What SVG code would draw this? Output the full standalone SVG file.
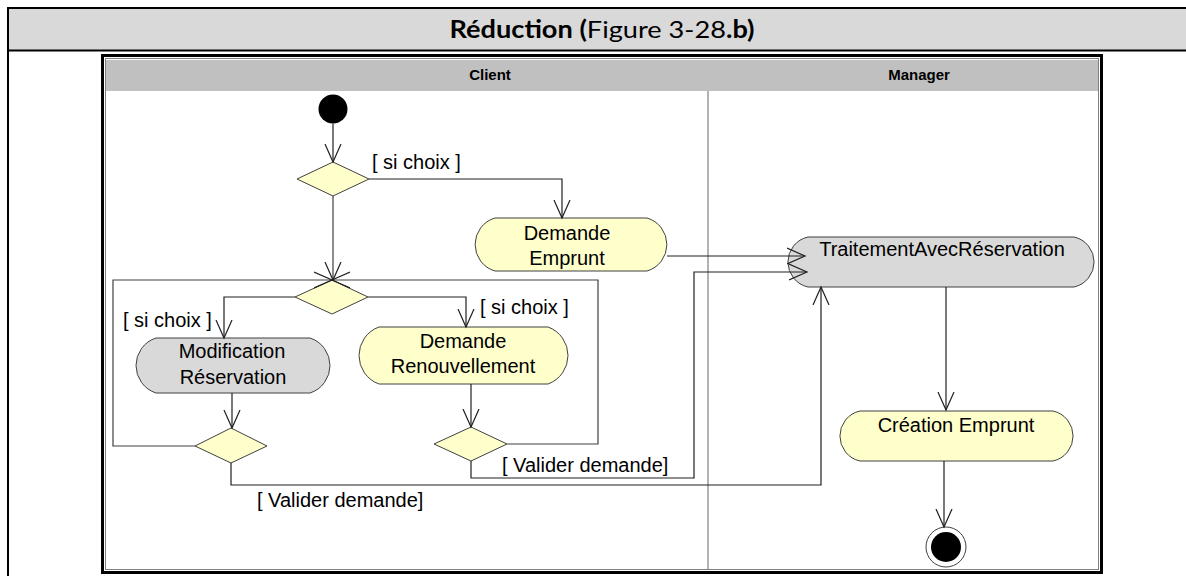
<svg xmlns="http://www.w3.org/2000/svg" width="1186" height="576" viewBox="0 0 1186 576">
  <defs>
    <marker id="arr" viewBox="0 0 20 20" markerWidth="20" markerHeight="20" refX="18" refY="10" orient="auto" markerUnits="userSpaceOnUse">
      <path d="M0,2 L18,10 L0,18" fill="none" stroke="#202020" stroke-width="1.2"/>
    </marker>
    <style>
      .lbl { font-family: "Liberation Sans", Arial, sans-serif; font-size: 20px; fill: #000; }
      .ntxt { font-family: "Liberation Sans", Arial, sans-serif; font-size: 20px; fill: #000; text-anchor: middle; }
      .lane { font-family: "Liberation Sans", Arial, sans-serif; font-size: 15px; font-weight: bold; fill: #000; text-anchor: middle; }
      .yel { fill: #ffffcc; stroke: #404040; stroke-width: 1; }
      .gry { fill: #d9d9d9; stroke: #404040; stroke-width: 1; }
      .dec { fill: #ffffcc; stroke: #404040; stroke-width: 1; }
      .con { fill: none; stroke: #202020; stroke-width: 1.2; }
      .loop { fill: none; stroke: #404040; stroke-width: 1.2; }
    </style>
  </defs>

  <!-- outer table -->
  <g id="table">
    <rect x="8" y="9" width="1180" height="41" fill="#d9d9d9"/>
    <line x1="7" y1="8" x2="1186" y2="8" stroke="#000" stroke-width="2"/>
    <line x1="7" y1="50.5" x2="1186" y2="50.5" stroke="#000" stroke-width="2"/>
    <line x1="8" y1="7" x2="8" y2="576" stroke="#000" stroke-width="2"/>
    <text x="602" y="38" font-family="Lato, 'Liberation Sans', sans-serif" font-size="24" text-anchor="middle" textLength="305" lengthAdjust="spacingAndGlyphs"><tspan font-weight="bold">Réduction (</tspan>Figure 3-28<tspan font-weight="bold">.b)</tspan></text>
  </g>

  <!-- swimlane frame -->
  <g id="frame">
    <rect x="102.5" y="55.5" width="999" height="517" fill="#fff" stroke="#000" stroke-width="3"/>
    <rect x="105.5" y="58.5" width="993" height="511" fill="none" stroke="#808080" stroke-width="1"/>
    <rect x="106" y="60" width="992" height="31" fill="#c0c0c0"/>
    <line x1="708" y1="91" x2="708" y2="569" stroke="#666" stroke-width="1"/>
    <text class="lane" x="490" y="80">Client</text>
    <text class="lane" x="919" y="80">Manager</text>
  </g>

  <g id="start">
    <circle cx="333" cy="109" r="14.5" fill="#000"/>
  </g>

  <g id="d1"><polygon class="dec" points="297,179 333,162 369,179 333,196"/></g>
  <g id="d2"><polygon class="dec" points="295,297 332,280 368,297 332,314"/></g>
  <g id="d3"><polygon class="dec" points="195,446 231,428 267,446 231,463"/></g>
  <g id="d4"><polygon class="dec" points="434,444 471,427 507,444 471,461"/></g>

  <g id="demandeEmprunt">
    <path class="yel" d="M495,218 H647 A27.6,27.6 0 0 1 647,271 H495 A27.6,27.6 0 0 1 495,218 Z"/>
    <text class="ntxt" x="567" y="240">Demande</text>
    <text class="ntxt" x="567" y="265">Emprunt</text>
  </g>

  <g id="traitement">
    <path class="gry" d="M808,237 H1074 A25.6,25.6 0 0 1 1074,287 H808 A25.6,25.6 0 0 1 808,237 Z"/>
    <text class="ntxt" x="942" y="256">TraitementAvecRéservation</text>
  </g>

  <g id="modification">
    <path class="gry" d="M156,338 H310 A28.9,28.9 0 0 1 310,393 H156 A28.9,28.9 0 0 1 156,338 Z"/>
    <text class="ntxt" x="232" y="358">Modification</text>
    <text class="ntxt" x="233" y="384">Réservation</text>
  </g>

  <g id="renouvellement">
    <path class="yel" d="M379,327 H548 A30.3,30.3 0 0 1 548,384 H379 A30.3,30.3 0 0 1 379,327 Z"/>
    <text class="ntxt" x="463" y="348">Demande</text>
    <text class="ntxt" x="463" y="373">Renouvellement</text>
  </g>

  <g id="creation">
    <path class="yel" d="M860,411 H1053 A25.6,25.6 0 0 1 1053,461 H860 A25.6,25.6 0 0 1 860,411 Z"/>
    <text class="ntxt" x="956" y="432">Création Emprunt</text>
  </g>

  <g id="end">
    <circle cx="946" cy="547" r="20" fill="#fff" stroke="#404040" stroke-width="1"/>
    <circle cx="946" cy="547" r="15" fill="#000"/>
  </g>

  <g id="connectors">
    <path class="con" d="M333,123.5 V162" marker-end="url(#arr)"/>
    <path class="con" d="M369,179 H562 V218" marker-end="url(#arr)"/>
    <path class="loop" d="M333,196 V280" marker-end="url(#arr)"/>
    <path class="con" d="M295,297 H224 V338" marker-end="url(#arr)"/>
    <path class="con" d="M368,297 H466 V327" marker-end="url(#arr)"/>
    <path class="con" d="M232,393 V428" marker-end="url(#arr)"/>
    <path class="con" d="M471,384 V427" marker-end="url(#arr)"/>
    <path class="loop" d="M195,446 H113 V280 H332" marker-end="url(#arr)"/>
    <path class="loop" d="M507,444 H598 V280 H332" marker-end="url(#arr)"/>
    <path class="con" d="M231,463 V485 H821 V287" marker-end="url(#arr)"/>
    <path class="con" d="M471,461 V478 H694 V272 H807" marker-end="url(#arr)"/>
    <path class="con" d="M667,256 H805" marker-end="url(#arr)"/>
    <path class="con" d="M946,287 V410" marker-end="url(#arr)"/>
    <path class="con" d="M944,461 V527" marker-end="url(#arr)"/>
    <text class="lbl" x="372" y="169">[ si choix ]</text>
    <text class="lbl" x="123" y="327">[ si choix ]</text>
    <text class="lbl" x="480" y="314">[ si choix ]</text>
    <text class="lbl" x="257" y="507">[ Valider demande]</text>
    <text class="lbl" x="502" y="472">[ Valider demande]</text>
  </g>
</svg>
